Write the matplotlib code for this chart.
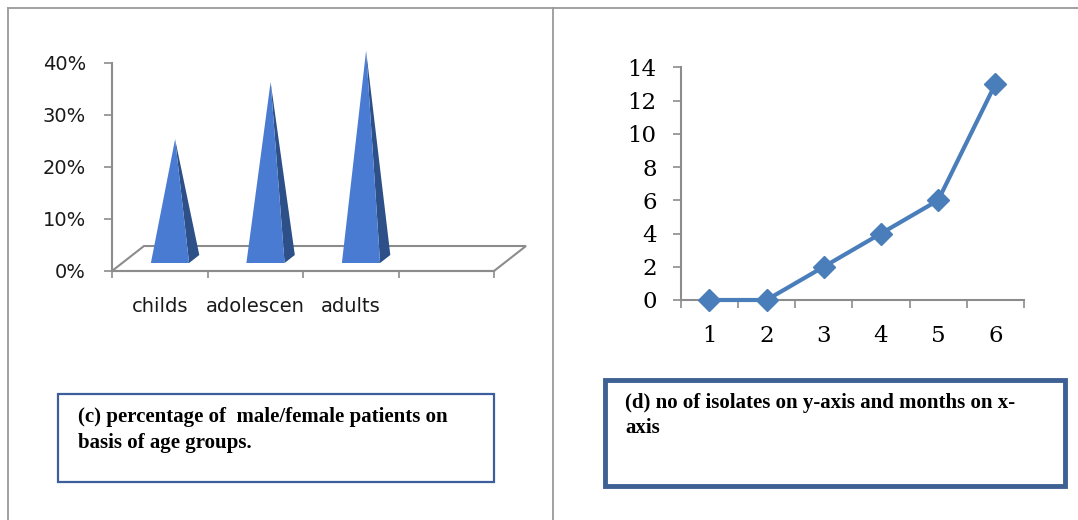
import numpy as np
import matplotlib.pyplot as plt
from matplotlib.patches import Polygon, Rectangle
from matplotlib.lines import Line2D
from matplotlib.ticker import PercentFormatter

# age group shares (pyramid chart)
age_groups = ['childs', 'adolescen', 'adults']
age_share = [0.23, 0.34, 0.40]
age_ticks = [0.0, 0.1, 0.2, 0.3, 0.4]

# isolates per month (line chart)
months = [1, 2, 3, 4, 5, 6]
isolates = [0, 0, 2, 4, 6, 13]
isolate_ticks = [0, 2, 4, 6, 8, 10, 12, 14]

caption_c = ["(c) percentage of  male/female patients on", "basis of age groups."]
caption_d = ["(d) no of isolates on y-axis and months on x-", "axis"]

W, H = 1078, 520
fig = plt.figure(figsize=(W / 100, H / 100), dpi=100)
fig.patch.set_facecolor('white')

def px_rect(x0, x1, ytop, ybot):
    # pixel box -> figure fraction [left, bottom, width, height]
    return [x0 / W, 1 - ybot / H, (x1 - x0) / W, (ybot - ytop) / H]

def fx(x):
    return x / W

def fy(y):
    return 1 - y / H

grey = '#8c8c8c'

# page frame and divider
for xs, ys in [([8, W], [8, 8]), ([8, 8], [8, H]), ([553, 553], [8, H])]:
    fig.add_artist(Line2D([fx(v) for v in xs], [fy(v) for v in ys],
                          color='#9a9a9a', lw=1.3))

# ---- left: 3D-looking pyramid chart ----
ax1 = fig.add_axes(px_rect(112, 540, 40, 271))
n_slots = 4
ax1.set_xlim(0, 428 / 95.5)
ax1.set_ylim(0, 231 / 520.75)
ax1.patch.set_alpha(0)

depth_x, depth_y = 0.335, 0.048
half_w = 0.2
d_front, d_mid, d_back = 0.32, 0.48, 0.64

floor = Polygon([(0, 0), (n_slots, 0), (n_slots + depth_x, depth_y), (depth_x, depth_y)],
                closed=True, facecolor='white', edgecolor=grey, lw=1.5, clip_on=False, zorder=1)
ax1.add_patch(floor)

for i, v in enumerate(age_share):
    cx = i + 0.5
    fl = (cx - half_w + d_front * depth_x, d_front * depth_y)
    fr = (cx + half_w + d_front * depth_x, d_front * depth_y)
    br = (cx + half_w + d_back * depth_x, d_back * depth_y)
    apex = (cx + d_mid * depth_x, d_mid * depth_y + v)
    ax1.add_patch(Polygon([fr, br, apex], closed=True, facecolor='#2d5089',
                          edgecolor='none', zorder=3, clip_on=False))
    ax1.add_patch(Polygon([fl, fr, apex], closed=True, facecolor='#4a7bd2',
                          edgecolor='none', zorder=4, clip_on=False))

for side in ['top', 'right']:
    ax1.spines[side].set_visible(False)
for side in ['left', 'bottom']:
    ax1.spines[side].set_color(grey)
    ax1.spines[side].set_linewidth(1.5)
ax1.spines['left'].set_bounds(0, age_ticks[-1])
ax1.spines['bottom'].set_bounds(0, n_slots)

ax1.set_yticks(age_ticks)
ax1.yaxis.set_major_formatter(PercentFormatter(1.0, decimals=0))
ax1.set_xticks(range(n_slots + 1))
ax1.set_xticklabels([])
ax1.set_xticks([i + 0.5 for i in range(len(age_groups))], minor=True)
ax1.set_xticklabels(age_groups, minor=True)
ax1.tick_params(axis='y', direction='out', length=5.8, width=1.2, color=grey,
                pad=13, labelsize=14, labelcolor='#1a1a1a')
ax1.tick_params(axis='x', which='major', direction='out', length=5, width=1.2, color=grey)
ax1.tick_params(axis='x', which='minor', length=0, pad=19, labelsize=14, labelcolor='#1a1a1a')

# ---- right: line chart ----
ax2 = fig.add_axes(px_rect(680.7, 1024, 67.3, 300))
ax2.plot(months, isolates, color='#4a7ebb', lw=3, marker='D', markersize=11,
         markerfacecolor='#4a7ebb', markeredgecolor='#4a7ebb', clip_on=False, zorder=5)
ax2.set_xlim(0.5, 6.5)
ax2.set_ylim(0, 14)
for side in ['top', 'right']:
    ax2.spines[side].set_visible(False)
for side in ['left', 'bottom']:
    ax2.spines[side].set_color(grey)
    ax2.spines[side].set_linewidth(1.5)
ax2.set_yticks(isolate_ticks)
ax2.set_xticks(np.arange(0.5, 7, 1))
ax2.set_xticklabels([])
ax2.set_xticks(months, minor=True)
ax2.set_xticklabels([str(m) for m in months], minor=True)
for lab in ax2.get_yticklabels() + ax2.get_xticklabels(minor=True):
    lab.set_fontfamily('DejaVu Serif')
    lab.set_fontsize(16.5)
ax2.tick_params(axis='y', direction='out', length=5.8, width=1.2, color=grey, pad=11.5)
ax2.tick_params(axis='x', which='major', direction='out', length=5.8, width=1.2, color=grey)
ax2.tick_params(axis='x', which='minor', length=0, pad=18)

# ---- caption boxes ----
fig.add_artist(Rectangle((fx(58), fy(482)), fx(493.5) - fx(58), fy(393.5) - fy(482),
                         transform=fig.transFigure, facecolor='white',
                         edgecolor='#3d5d9c', lw=1.6))
fig.add_artist(Rectangle((fx(605), fy(486)), fx(1065) - fx(605), fy(380) - fy(486),
                         transform=fig.transFigure, facecolor='white',
                         edgecolor='#3e6193', lw=3.5))

for k, line in enumerate(caption_c):
    fig.text(fx(78), fy(422 + 26 * k), line, ha='left', va='baseline', fontsize=15,
             fontweight='bold', family='Liberation Serif')
for k, line in enumerate(caption_d):
    fig.text(fx(625), fy(408 + 25 * k), line, ha='left', va='baseline', fontsize=15,
             fontweight='bold', family='Liberation Serif')

fig.savefig('out.png', dpi=100, facecolor='white')
